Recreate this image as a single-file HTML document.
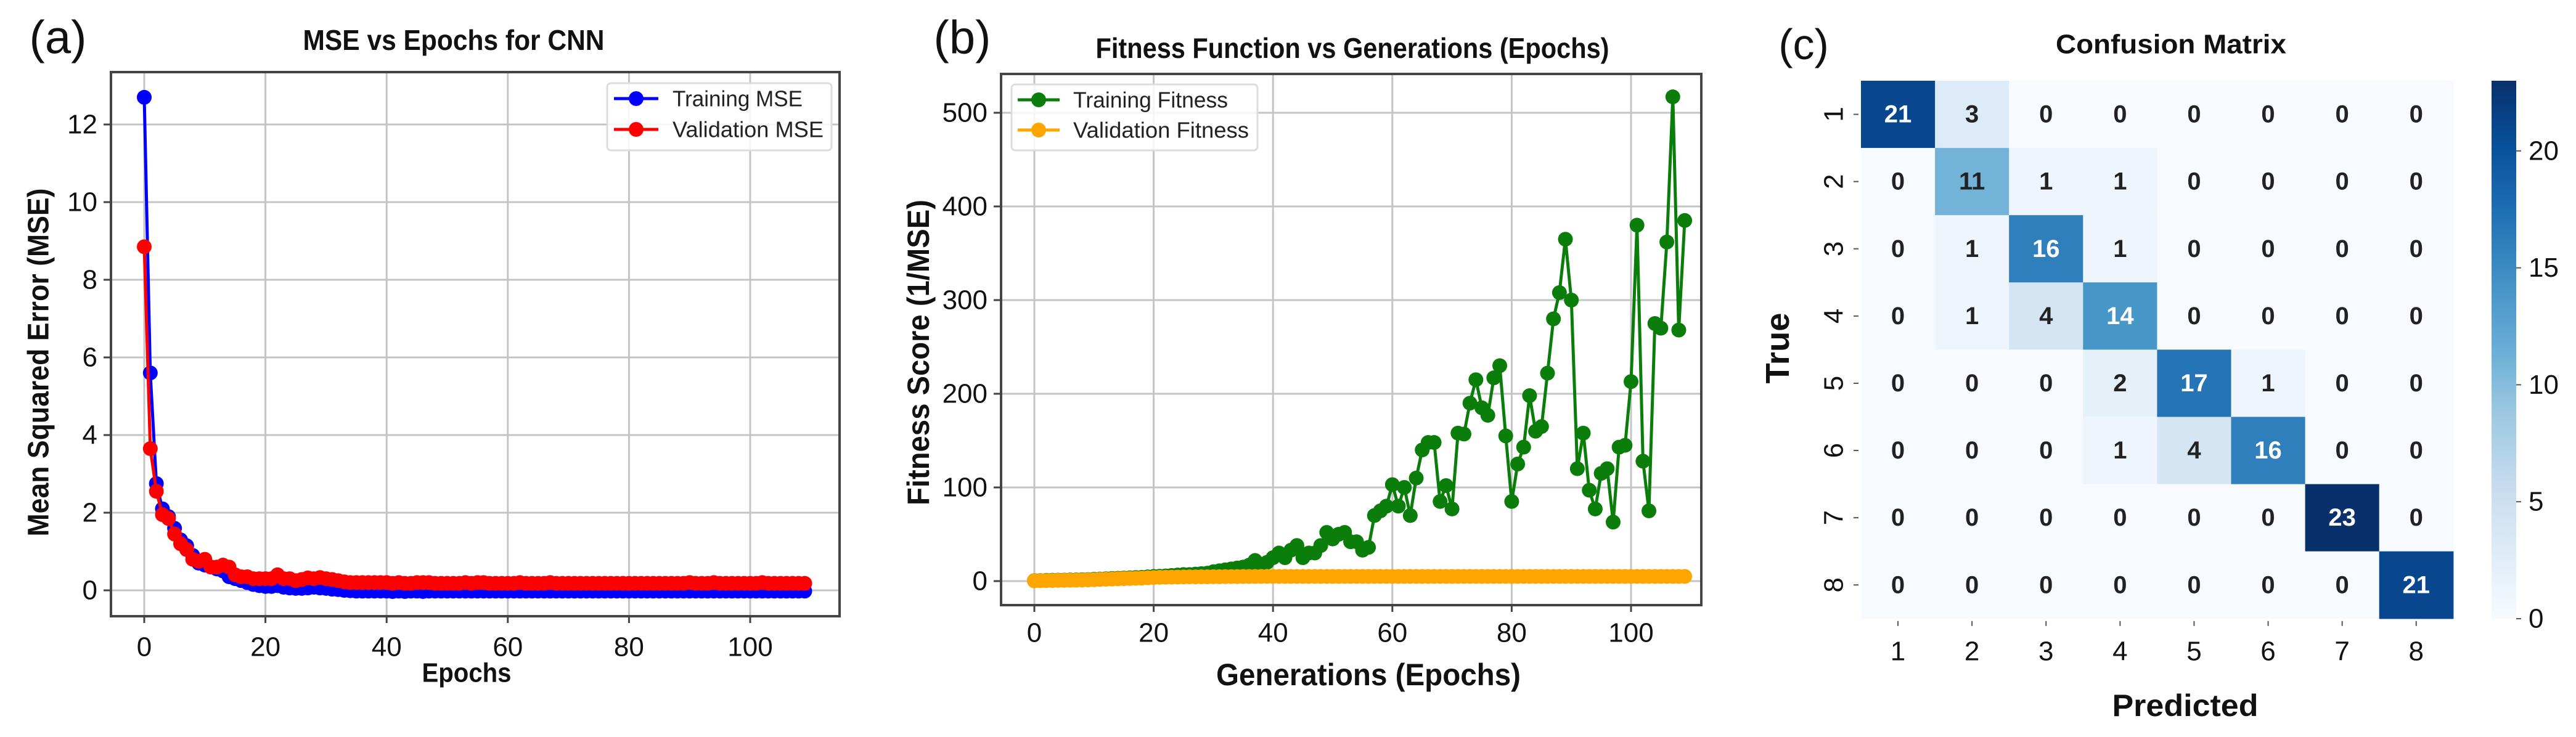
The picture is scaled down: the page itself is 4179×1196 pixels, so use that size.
<!DOCTYPE html>
<html><head><meta charset="utf-8">
<style>
html,body{margin:0;padding:0;background:#fff;}
svg{display:block;font-family:"Liberation Sans",sans-serif;}
</style></head>
<body>
<svg id="fig" width="4179" height="1196" viewBox="0 0 4179 1196" xmlns="http://www.w3.org/2000/svg">
<rect width="4179" height="1196" fill="#fff"/>
<g id="pa"></g>
<g id="pb"></g>
<g id="pc"></g>
</svg>
<script>
// ---------- Panel (a) data ----------
const mseEpochs = Array.from({length:110},(_, i)=>i);
const trainMSE = [12.7,5.6,2.75,2.1,1.9,1.6,1.3,1.15,0.9,0.7,0.65,0.6,0.55,0.5,0.35,0.3,0.25,0.2,0.15,0.12,0.1,0.1,0.12,0.08,0.06,0.05,0.05,0.06,0.08,0.06,0.05,0.03,0.02,0.0,-0.01,-0.02,-0.02,-0.02,-0.02,-0.02,-0.02,-0.03,-0.02,-0.03,-0.02,-0.02,-0.03,-0.02,-0.02,-0.02,-0.02,-0.02,-0.02,-0.02,-0.02,-0.02,-0.02,-0.02,-0.02,-0.02,-0.02,-0.02,-0.02,-0.02,-0.02,-0.02,-0.02,-0.02,-0.02,-0.02,-0.02,-0.02,-0.02,-0.02,-0.02,-0.02,-0.02,-0.02,-0.02,-0.02,-0.02,-0.02,-0.02,-0.02,-0.02,-0.02,-0.02,-0.02,-0.02,-0.02,-0.02,-0.02,-0.02,-0.02,-0.02,-0.02,-0.02,-0.02,-0.02,-0.02,-0.02,-0.02,-0.02,-0.02,-0.02,-0.02,-0.02,-0.02,-0.02,-0.02];
const valMSE = [8.85,3.65,2.55,1.95,1.85,1.45,1.2,1.05,0.8,0.75,0.8,0.6,0.6,0.65,0.6,0.4,0.35,0.35,0.3,0.3,0.3,0.3,0.4,0.3,0.3,0.25,0.28,0.32,0.3,0.33,0.3,0.28,0.25,0.22,0.2,0.2,0.2,0.2,0.2,0.2,0.2,0.18,0.2,0.18,0.18,0.2,0.2,0.2,0.18,0.18,0.18,0.18,0.18,0.2,0.18,0.2,0.2,0.18,0.18,0.18,0.18,0.18,0.2,0.18,0.18,0.18,0.18,0.2,0.18,0.18,0.18,0.18,0.18,0.18,0.18,0.18,0.18,0.18,0.18,0.18,0.18,0.18,0.18,0.18,0.18,0.18,0.18,0.18,0.18,0.18,0.2,0.18,0.18,0.18,0.2,0.18,0.18,0.18,0.18,0.18,0.18,0.18,0.2,0.18,0.18,0.18,0.18,0.18,0.18,0.18];
const mseXTicks = [0,20,40,60,80,100];
const mseYTicks = [0,2,4,6,8,10,12];

// ---------- Panel (b) data ----------
const fitEpochs = Array.from({length:110},(_, i)=>i);
const trainFit = [0.5,0.6,0.8,0.9,1,1.1,1.2,1.3,1.5,1.6,2,2.2,2.5,2.8,3,3.2,3.5,3.8,4,4.5,5,5.2,5.5,6,6.5,7,7,7.5,8,8.5,10,11,12,13,14,15,17,22,18,20,25,30,25,33,38,25,30,30,38,52,45,50,52,42,42,33,36,70,75,80,103,80,100,70,110,140,148,148,85,102,77,158,157,190,215,185,177,217,230,155,85,125,143,198,160,165,222,280,308,365,300,120,158,97,77,115,120,63,143,145,213,380,128,75,275,270,362,517,268,385];
const valFit = [0.3,0.4,0.5,0.6,0.7,0.8,0.9,1,1.1,1.2,1.5,1.8,2,2.2,2.4,2.6,2.8,3,3.2,3.5,3.8,4,4.1,4.2,4.3,4.4,4.5,4.5,4.6,4.6,4.7,4.7,4.8,4.8,4.8,4.9,4.9,4.9,5,5,5,5,5,5,5,5,5,5,5,5,5,5,5,5,5,5,5,5,5,5,5,5,5,5,5,5,5,5,5,5,5,5,5,5,5,5,5,5,5,5,5,5,5,5,5,5,5,5,5,5,5,5,5,5,5,5,5,5,5,5,5,5,5,5,5,5,5,5,5,5];
const fitXTicks = [0,20,40,60,80,100];
const fitYTicks = [0,100,200,300,400,500];

// ---------- Panel (c) data ----------
const cmLabels = ["1","2","3","4","5","6","7","8"];
const cmRow1 = [21,3,0,0,0,0,0,0];
const cmRow2 = [0,11,1,1,0,0,0,0];
const cmRow3 = [0,1,16,1,0,0,0,0];
const cmRow4 = [0,1,4,14,0,0,0,0];
const cmRow5 = [0,0,0,2,17,1,0,0];
const cmRow6 = [0,0,0,1,4,16,0,0];
const cmRow7 = [0,0,0,0,0,0,23,0];
const cmRow8 = [0,0,0,0,0,0,0,21];
const cmMatrix = [cmRow1,cmRow2,cmRow3,cmRow4,cmRow5,cmRow6,cmRow7,cmRow8];
const cbTicks = [0,5,10,15,20];

const NS="http://www.w3.org/2000/svg";
function mk(parent, tag, attrs, text){
  const e=document.createElementNS(NS,tag);
  for(const k in attrs) e.setAttribute(k,attrs[k]);
  if(text!==undefined) e.textContent=text;
  parent.appendChild(e);
  return e;
}
function label(parent,x,y,txt,size,opts){
  opts=opts||{};
  const a={x:x,y:y,'font-size':size,'text-anchor':opts.anchor||'middle','dominant-baseline':'central',fill:opts.fill||'#111'};
  if(opts.weight) a['font-weight']=opts.weight;
  if(opts.len){a.textLength=opts.len;a.lengthAdjust='spacingAndGlyphs';}
  if(opts.rot) a.transform='rotate(-90 '+x+' '+y+')';
  return mk(parent,'text',a,txt);
}

function linePanel(g, cfg){
  const {L,R,T,B,x0px,xUnit,y0px,yPerUnit} = cfg;
  const sx = v => x0px + (v)*xUnit;
  const sy = v => y0px - v*yPerUnit;
  cfg.xTicks.forEach(t=>{
    const l=mk(g,'line',{x1:sx(t),x2:sx(t),y1:T,y2:B,stroke:'#c4c4c4','stroke-width':3});
    
    
    const tk=mk(g,'line',{x1:sx(t),x2:sx(t),y1:B,y2:B+11,stroke:'#444','stroke-width':3});
    
    
    const tl=label(g,sx(t),cfg.xTickY,String(t),44);
    
    
  });
  cfg.yTicks.forEach(t=>{
    const l=mk(g,'line',{x1:L,x2:R,y1:sy(t),y2:sy(t),stroke:'#c4c4c4','stroke-width':3});
    
    
    const tk=mk(g,'line',{x1:L-12,x2:L,y1:sy(t),y2:sy(t),stroke:'#444','stroke-width':3});
    
    
    const tl=label(g,L-22,sy(t),String(t),44,{anchor:'end'});
    
    
  });
  cfg.series.forEach(s=>{
    const pts=s.x.map((xv,i)=>sx(xv).toFixed(1)+','+sy(s.y[i]).toFixed(1)).join(' ');
    const sg=mk(g,'g',{});
    
    
    mk(sg,'polyline',{points:pts,fill:'none',stroke:s.color,'stroke-width':5,'stroke-linejoin':'round'});
    s.x.forEach((xv,i)=>{
      const c=mk(sg,'circle',{cx:sx(xv),cy:sy(s.y[i]),r:12,fill:s.color});
      
      
    });
  });
  const fr=mk(g,'rect',{x:L,y:T,width:R-L,height:B-T,fill:'none',stroke:'#444','stroke-width':4});
  
  
  const lg=mk(g,'g',{});
  
  
  const lb=cfg.legend;
  mk(lg,'rect',{x:lb.x,y:lb.y,width:lb.w,height:lb.h,rx:6,fill:'#fff','fill-opacity':0.85,stroke:'#ddd','stroke-width':3});
  cfg.series.forEach((s,i)=>{
    const yy=lb.rows[i];
    const e=mk(lg,'g',{});
    
    
    mk(e,'line',{x1:lb.lx1,x2:lb.lx2,y1:yy,y2:yy,stroke:s.color,'stroke-width':5});
    mk(e,'circle',{cx:(lb.lx1+lb.lx2)/2,cy:yy,r:12,fill:s.color});
    label(e,lb.tx,yy,s.label,36,{anchor:'start',fill:'#222',len:s.len});
  });
}

// Panel (a)
const ga=document.getElementById('pa');
const pla=label(ga,94,61,'(a)',76,{fill:'#111'});


const ta=label(ga,736,65,'MSE vs Epochs for CNN',46,{len:489,weight:'bold'});


linePanel(ga,{L:180,R:1362,T:117,B:1000,x0px:234,xUnit:9.83,y0px:958,yPerUnit:63,
  xTicks:mseXTicks,yTicks:mseYTicks,xTickY:1050,
  series:[
    {name:'training-mse-line',label:'Training MSE',color:'#0000ff',x:mseEpochs,y:trainMSE,len:211},
    {name:'validation-mse-line',label:'Validation MSE',color:'#ff0000',x:mseEpochs,y:valMSE,len:245}
  ],
  legend:{x:985,y:135,w:364,h:109,rows:[160,210],lx1:996,lx2:1068,tx:1091}
});
const xa=label(ga,757,1092,'Epochs',44,{len:145,weight:'bold'});


const ya=label(ga,63,588,'Mean Squared Error (MSE)',48,{rot:true,len:565,weight:'bold'});



// Panel (b)
const gb=document.getElementById('pb');
const plb=label(gb,1561,61,'(b)',76);


const tb=label(gb,2194,78,'Fitness Function vs Generations (Epochs)',46,{len:833,weight:'bold'});


linePanel(gb,{L:1624,R:2760,T:120,B:982,x0px:1678,xUnit:9.68,y0px:943,yPerUnit:1.52,
  xTicks:fitXTicks,yTicks:fitYTicks,xTickY:1027,
  series:[
    {name:'training-fitness-line',label:'Training Fitness',color:'#0a7d0a',x:fitEpochs,y:trainFit,len:251},
    {name:'validation-fitness-line',label:'Validation Fitness',color:'#ffa500',x:fitEpochs,y:valFit,len:285}
  ],
  legend:{x:1641,y:137,w:399,h:107,rows:[162,211],lx1:1651,lx2:1719,tx:1741}
});
const xb=label(gb,2220,1095,'Generations (Epochs)',50,{len:494,weight:'bold'});


const yb=label(gb,1490,572,'Fitness Score (1/MSE)',50,{rot:true,len:496,weight:'bold'});



// Panel (c)
const gc=document.getElementById('pc');
const plc=label(gc,2926,72,'(c)',70);


const tc=label(gc,3522,72,'Confusion Matrix',44,{len:374,weight:'bold'});


const stops=[[247,251,255],[222,235,247],[198,219,239],[158,202,225],[107,174,214],[66,146,198],[33,113,181],[8,81,156],[8,48,107]];
const VMAX=23;
function blues(v){
  let t=Math.max(0,Math.min(1,v/VMAX))*8;
  const i=Math.min(7,Math.floor(t)), f=t-i;
  const a=stops[i],b=stops[i+1];
  return 'rgb('+a.map((c,k)=>Math.round(c+(b[k]-c)*f)).join(',')+')';
}
const HL=3019,HT=131,CW=120.1,CH=109.1;
cmMatrix.forEach((row,r)=>{
  row.forEach((v,c)=>{
    const cell=mk(gc,'rect',{x:HL+c*CW,y:HT+r*CH,width:CW+0.6,height:CH+0.6,fill:blues(v)});
    
    
    const t=label(gc,HL+(c+0.5)*CW,HT+(r+0.5)*CH,String(v),40,{weight:'bold',fill:v>=13?'#fff':'#222'});
    
    
  });
});
cmLabels.forEach((lab,i)=>{
  const tx=label(gc,HL+(i+0.5)*CW,1057,lab,44);
  
  
  mk(gc,'line',{x1:HL+(i+0.5)*CW,x2:HL+(i+0.5)*CW,y1:HT+8*CH+4,y2:HT+8*CH+12,stroke:'#555','stroke-width':2});
  const ty=label(gc,2975,HT+(i+0.5)*CH,lab,44,{rot:true});
  
  
  mk(gc,'line',{x1:HL-12,x2:HL-4,y1:HT+(i+0.5)*CH,y2:HT+(i+0.5)*CH,stroke:'#555','stroke-width':2});
});
const xc=label(gc,3545,1145,'Predicted',50,{len:237,weight:'bold'});


const yc=label(gc,2884,565,'True',54,{rot:true,len:115,weight:'bold'});


const CBX=4042,CBW=40,CBT=131,CBB=1004;
const defs=mk(gc,'defs',{});
const grad=mk(defs,'linearGradient',{id:'cbg',x1:0,y1:1,x2:0,y2:0});
stops.forEach((s,i)=>mk(grad,'stop',{offset:(i/8),'stop-color':'rgb('+s.join(',')+')'}));
const cb=mk(gc,'rect',{x:CBX,y:CBT,width:CBW,height:CBB-CBT,fill:'url(#cbg)'});


const cby=v=>CBB-(v/VMAX)*(CBB-CBT);
cbTicks.forEach(t=>{
  mk(gc,'line',{x1:CBX+CBW,x2:CBX+CBW+8,y1:cby(t),y2:cby(t),stroke:'#555','stroke-width':2});
  const tl=label(gc,CBX+CBW+20,cby(t),String(t),44,{anchor:'start'});
  
  
});
</script>
</body></html>
